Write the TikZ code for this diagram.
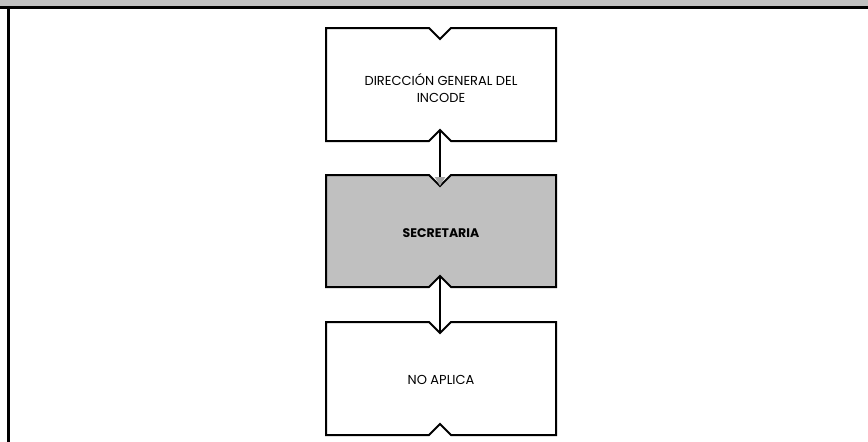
\documentclass[tikz,border=0pt]{standalone}
\usepackage{fontspec}
\setmainfont{Poppins}
\usetikzlibrary{arrows.meta}
\definecolor{bandgray}{HTML}{C0C0C0}
\tikzset{
  boxtext/.style={align=center, inner sep=0pt, font=\fontsize{13}{17}\selectfont},
  notchbox/.style={draw=black, line width=2pt, line join=miter},
  flowline/.style={line width=2pt, -{Triangle[width=10pt,length=9pt,color=bandgray!85!black]}}
}
\newcommand{\notchedbox}[4]{% #1 center x, #2 top y, #3 bottom y, #4 fill
  \filldraw[notchbox, fill=#4]
    (#1-115,#2) -- (#1-12,#2) -- (#1-1,#2+11) -- (#1+10,#2) -- (#1+115,#2)
    -- (#1+115,#3) -- (#1+10,#3) -- (#1-1,#3-11) -- (#1-12,#3) -- (#1-115,#3) -- cycle;
}
\begin{document}
\begin{tikzpicture}[x=1pt,y=-1pt]
\useasboundingbox (0,0) rectangle (868,442);
% top band
\fill[bandgray] (0,0) rectangle (868,6);
\draw[line width=3pt] (0,7.5) -- (868,7.5);
\draw[line width=2.5pt] (8.5,7.5) -- (8.5,442);
% boxes
\notchedbox{441}{28}{141}{white}
\notchedbox{441}{175}{287}{bandgray}
\notchedbox{441}{322}{435}{white}
\node[boxtext] (dir) at (441,88.5) {DIRECCIÓN GENERAL DEL\\INCODE};
\node[boxtext, font=\fontsize{12.5}{14}\selectfont\bfseries] (sec) at (441,233) {SECRETARIA};
\node[boxtext] (noap) at (441,380) {NO APLICA};
\coordinate (b1) at (440,130);
\coordinate (t2) at (440,186);
\coordinate (b2) at (440,276);
\coordinate (t3) at (440,333);
\draw[flowline] (b1) -- (t2);
\draw[line width=2pt] (b2) -- (t3);
\end{tikzpicture}
\end{document}
